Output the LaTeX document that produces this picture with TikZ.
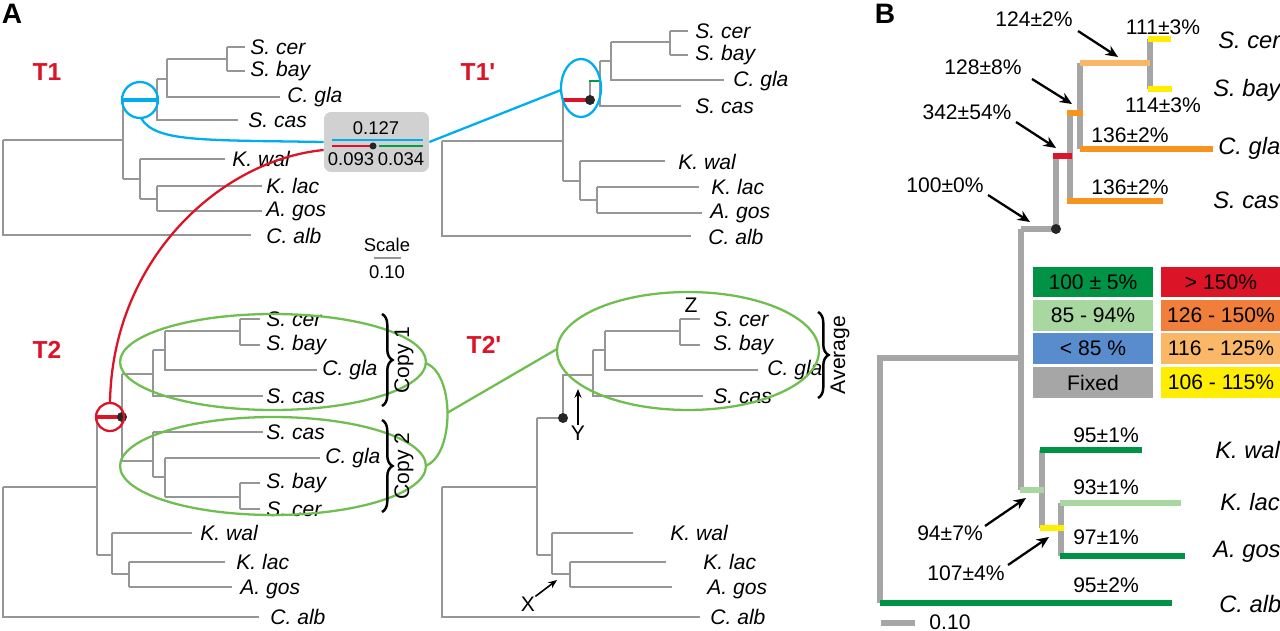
\documentclass[tikz,border=0pt]{standalone}
\usepackage{fontspec}
\setmainfont{Liberation Sans}
\usetikzlibrary{arrows.meta,decorations.pathreplacing}
\definecolor{tg}{RGB}{150,150,150}
\definecolor{lb}{RGB}{0,174,239}
\definecolor{rd}{RGB}{220,20,40}
\definecolor{gr}{RGB}{0,160,70}
\definecolor{lg}{RGB}{110,190,80}
\definecolor{dg}{RGB}{0,146,69}
\definecolor{pg}{RGB}{168,216,160}
\definecolor{bl}{RGB}{88,140,204}
\definecolor{fx}{RGB}{166,166,166}
\definecolor{og}{RGB}{240,127,60}
\definecolor{lo}{RGB}{250,183,104}
\definecolor{ye}{RGB}{255,238,0}
\definecolor{ob}{RGB}{247,148,29}
\begin{document}
\begin{tikzpicture}[x=0.02cm,y=-0.02cm,
 tr/.style={draw=tg,line width=1.2pt},
 tb/.style={line width=2.9pt},
 sp/.style={anchor=west,inner sep=0pt,font=\fontsize{12}{14}\selectfont\itshape},
 spb/.style={anchor=west,inner sep=0pt,font=\fontsize{13.5}{15}\selectfont\itshape},
 pc/.style={inner sep=0pt,font=\fontsize{12}{14}\selectfont},
 sm/.style={inner sep=0pt,font=\fontsize{10.5}{12}\selectfont},
 tl/.style={text=rd,font=\fontsize{14}{16}\selectfont\bfseries},
 ar/.style={-{Stealth[length=7pt,width=6pt]},line width=1.3pt},
 lgd/.style={minimum width=2.4cm,minimum height=0.62cm,inner sep=0pt,font=\fontsize{12}{14}\selectfont},
 br/.style={decorate,decoration={brace,amplitude=6pt},line width=1.4pt},
 dot/.style={circle,fill=black!85,inner sep=0pt,minimum size=0.2cm}]
\useasboundingbox (0,0) rectangle (1280,631);
\node[font=\fontsize{16}{18}\selectfont\bfseries] (lA) at (12,14) {A};
\node[font=\fontsize{16}{18}\selectfont\bfseries] (lB) at (885,14) {B};
% ---------- T1
\node[tl] (t1) at (47,72) {T1};
\draw[tr] (3,140)--(123,140) (3,140)--(3,235)--(251,235)
 (123,100)--(123,179) (157,79)--(157,120)--(238,120) (157,79)--(167,79)
 (167,59)--(167,97)--(280,97) (167,59)--(227,59) (227,47)--(227,71)
 (227,47)--(245,47) (227,71)--(245,71)
 (123,179)--(140,179) (140,159)--(140,199) (140,159)--(225,159) (140,199)--(157,199)
 (157,186)--(157,211) (157,186)--(262,186) (157,211)--(262,211);
\draw[lb,line width=1.8pt] (123,100)--(157,100);
\draw[lb,line width=1.3pt] (140,100) circle[radius=0.36cm];
\node[sp] (a1) at (250,47) {S. cer};
\node[sp] (a2) at (250,71) {S. bay};
\node[sp] (a3) at (287,97) {C. gla};
\node[sp] (a4) at (248,120) {S. cas};
\node[sp] (a5) at (232,159) {K. wal};
\node[sp] (a6) at (266,186) {K. lac};
\node[sp] (a7) at (266,211) {A. gos};
\node[sp] (a8) at (266,236) {C. alb};
% box
\node[fill=black!18,rounded corners=4pt,minimum width=2.1cm,minimum height=1.2cm,inner sep=0pt] (bx) at (376.5,142) {};
\node[sm] (v1) at (376,128) {0.127};
\node[sm] (v2) at (351,159) {0.093};
\node[sm] (v3) at (401,159) {0.034};
\draw[lb,line width=1.5pt] (332,140)--(423,140);
\draw[rd,line width=1.5pt] (332,146)--(373,146);
\draw[gr,line width=1.5pt] (379,146)--(423,146);
\node[dot,minimum size=0.14cm] (bd) at (373,146) {};
\node[sm] (sc) at (387,245) {Scale};
\draw[tr] (374,258)--(401,258);
\node[sm] (sv) at (387,272) {0.10};
% ---------- T1'
\node[tl] (t1p) at (478,72) {T1\textquotesingle};
\draw[tr] (442,141)--(563,141) (442,141)--(442,236)--(691,236)
 (563,100)--(563,181) (600,61)--(600,106)--(681,106) (600,61)--(611,61)
 (611,42)--(611,80)--(724,80) (611,42)--(670,42) (670,31)--(670,55)
 (670,31)--(688,31) (670,55)--(688,55)
 (563,181)--(580,181) (580,161)--(580,200) (580,161)--(665,161) (580,200)--(597,200)
 (597,187)--(597,213) (597,187)--(699,187) (597,213)--(702,213);
\draw[tg,line width=1.2pt] (590,100)--(590,81);
\draw[gr,line width=1.6pt] (589,81)--(600,81);
\draw[rd,line width=1.8pt] (563,100)--(590,100);
\node[dot] (d1) at (590,100) {};
\draw[lb,line width=1.3pt] (581,88) ellipse[x radius=0.4cm,y radius=0.58cm];
\node[sp] (b1) at (695,31) {S. cer};
\node[sp] (b2) at (695,55) {S. bay};
\node[sp] (b3) at (733,81) {C. gla};
\node[sp] (b4) at (695,106) {S. cas};
\node[sp] (b5) at (678,162) {K. wal};
\node[sp] (b6) at (711,187) {K. lac};
\node[sp] (b7) at (710,213) {A. gos};
\node[sp] (b8) at (708,237) {C. alb};
\coordinate (c1) at (141,118);
\coordinate (c2) at (561,90);
\draw[lb,line width=1.3pt] (c1) .. controls (155,142) and (200,140) .. (bx.west);
\draw[lb,line width=1.3pt] (bx.east) -- (c2);
% ---------- T2
\node[tl] (t2) at (47,350) {T2};
\draw[tr] (3,487)--(97,487) (3,487)--(3,617)--(259,617)
 (97,417)--(97,555) (122,374)--(122,461)
 (122,374)--(153,374) (153,350)--(153,396)--(263,396) (153,350)--(165,350)
 (165,331)--(165,370)--(317,370) (165,331)--(240,331) (240,319)--(240,345)
 (240,319)--(260,319) (240,345)--(260,345)
 (122,461)--(153,461) (153,432)--(153,477) (153,432)--(263,432) (153,477)--(165,477)
 (165,458)--(165,497) (165,458)--(320,458) (165,497)--(240,497) (240,483)--(240,509)
 (240,483)--(260,483) (240,509)--(260,509)
 (97,555)--(112,555) (112,533)--(112,574) (112,533)--(192,533) (112,574)--(129,574)
 (129,562)--(129,587) (129,562)--(225,562) (129,587)--(232,587);
\draw[rd,line width=1.8pt] (97,417)--(122,417);
\node[dot] (d2) at (122,417) {};
\draw[rd,line width=1.3pt] (110,417) circle[radius=0.28cm];
\node[sp] (e1) at (266,319) {S. cer};
\node[sp] (e2) at (266,345) {S. bay};
\node[sp] (e3) at (322,370) {C. gla};
\node[sp] (e4) at (266,396) {S. cas};
\node[sp] (e5) at (266,432) {S. cas};
\node[sp] (e6) at (325,458) {C. gla};
\node[sp] (e7) at (266,483) {S. bay};
\node[sp] (e8) at (266,509) {S. cer};
\node[sp] (e9) at (200,533) {K. wal};
\node[sp] (e10) at (236,562) {K. lac};
\node[sp] (e11) at (240,589) {A. gos};
\node[sp] (e12) at (270,617) {C. alb};
\draw[lg,line width=1.3pt] (273,362) ellipse[x radius=3.06cm,y radius=0.96cm];
\draw[lg,line width=1.3pt] (273,466) ellipse[x radius=3.06cm,y radius=0.98cm];
\draw[br] (382,314)--(382,406);
\draw[br] (382,420)--(382,512);
\node[pc,rotate=90] (cp1) at (404,360) {Copy 1};
\node[pc,rotate=90] (cp2) at (404,466) {Copy 2};
\coordinate (c3) at (110,403);
\draw[rd,line width=1.3pt] (c3) .. controls (112,260) and (220,160) .. (bx.west |- 0,150);
\coordinate (g1) at (425,363);
\coordinate (g2) at (425,466);
\coordinate (g3) at (447,413);
\coordinate (g4) at (557,349);
\draw[lg,line width=1.3pt] (g1) .. controls (455,372) and (455,456) .. (g2);
\draw[lg,line width=1.3pt] (g3) -- (g4);
% ---------- T2'
\node[tl] (t2p) at (484,345) {T2\textquotesingle};
\draw[tr] (442,487)--(537,487) (442,487)--(442,617)--(700,617)
 (537,418)--(537,555) (563,418)--(563,375)--(593,375)
 (593,350)--(593,396)--(703,396) (593,350)--(605,350)
 (605,331)--(605,370)--(758,370) (605,331)--(680,331) (680,319)--(680,345)
 (680,319)--(700,319) (680,345)--(700,345)
 (537,555)--(552,555) (552,533)--(552,574) (552,533)--(633,533) (552,574)--(570,574)
 (570,562)--(570,587) (570,562)--(666,562) (570,587)--(672,587)
 (537,418)--(563,418);
\node[dot] (d3) at (563,418) {};
\node[sp] (f1) at (713,319) {S. cer};
\node[sp] (f2) at (713,345) {S. bay};
\node[sp] (f3) at (767,370) {C. gla};
\node[sp] (f4) at (713,396) {S. cas};
\node[sp] (f5) at (670,533) {K. wal};
\node[sp] (f6) at (703,562) {K. lac};
\node[sp] (f7) at (707,589) {A. gos};
\node[sp] (f8) at (710,617) {C. alb};
\node[pc] (zz) at (691,305) {Z};
\node[pc] (yy) at (578,433) {Y};
\node[pc] (xx) at (528,604) {X};
\draw[-{Stealth[length=5pt,width=4pt]},line width=0.9pt] (yy.north) -- (578,389);
\draw[-{Stealth[length=5pt,width=4pt]},line width=0.9pt] (xx.north east) -- (557,580);
\draw[lg,line width=1.3pt] (688,351) ellipse[x radius=2.62cm,y radius=1.18cm];
\draw[br] (818,312)--(818,398);
\node[pc,rotate=90] (avg) at (840,355) {Average};
% ---------- B
\draw[fx,tb] (880,603)--(880,358)--(1021,358) (1021,229)--(1021,490) (1021,229)--(1056,229)
 (1056,229)--(1056,156) (1070,113)--(1070,201) (1080,63)--(1080,149)
 (1150,39)--(1150,89) (1042,490)--(1042,528) (1042,450)--(1042,490) (1061,528)--(1061,556) (1061,503)--(1061,528);
\draw[rd,tb] (1053,156)--(1072,156);
\draw[ob,tb] (1067,201)--(1163,201) (1067,113)--(1083,113) (1080,149)--(1213,149);
\draw[lo,tb] (1080,63)--(1150,63);
\draw[ye,tb] (1148,39)--(1171,39) (1148,89)--(1172,89) (1040,528)--(1064,528);
\draw[pg,tb] (1020,490)--(1044,490) (1060,503)--(1181,503);
\draw[dg,tb] (1040,450)--(1142,450) (1060,556)--(1185,556) (880,603)--(1172,603);
\node[dot] (d4) at (1056,229) {};
\draw[fx,tb] (881,623)--(915,623);
\node[pc] (s10) at (950,622) {0.10};
\node[spb] (h1) at (1218,40) {S. cer};
\node[spb] (h2) at (1213,90) {S. bay};
\node[spb] (h3) at (1218,148) {C. gla};
\node[spb] (h4) at (1213,200) {S. cas};
\node[spb] (h5) at (1215,450) {K. wal};
\node[spb] (h6) at (1220,502) {K. lac};
\node[spb] (h7) at (1213,552) {A. gos};
\node[spb] (h8) at (1219,604) {C. alb};
\node[pc] (p1) at (1034,19) {124±2\%};
\node[pc] (p2) at (1163,27) {111±3\%};
\node[pc] (p3) at (1163,105) {114±3\%};
\node[pc] (p4) at (983,67) {128±8\%};
\node[pc] (p5) at (967,112) {342±54\%};
\node[pc] (p6) at (1130,135) {136±2\%};
\node[pc] (p7) at (1130,187) {136±2\%};
\node[pc] (p8) at (945,185) {100±0\%};
\node[pc] (p9) at (1106,435) {95±1\%};
\node[pc] (p10) at (1106,487) {93±1\%};
\node[pc] (p11) at (1106,537) {97±1\%};
\node[pc] (p12) at (1106,585) {95±2\%};
\node[pc] (p13) at (950,533) {94±7\%};
\node[pc] (p14) at (966,573) {107±4\%};
\draw[ar] (1078,31)--(1118,57);
\draw[ar] (1032,79)--(1072,104);
\draw[ar] (1016,122)--(1056,148);
\draw[ar] (988,195)--(1030,222);
\draw[ar] (985,526)--(1026,498);
\draw[ar] (1008,565)--(1049,537);
% legend
\node[lgd,fill=dg] (L1) at (1093,282) {100 ± 5\%};
\node[lgd,fill=pg] (L2) at (1093,315.5) {85 - 94\%};
\node[lgd,fill=bl] (L3) at (1093,348.5) {< 85 \%};
\node[lgd,fill=fx] (L4) at (1093,382.5) {Fixed};
\node[lgd,fill=rd] (R1) at (1221,282) {> 150\%};
\node[lgd,fill=og] (R2) at (1221,315.5) {126 - 150\%};
\node[lgd,fill=lo] (R3) at (1221,348.5) {116 - 125\%};
\node[lgd,fill=ye] (R4) at (1221,382.5) {106 - 115\%};
\end{tikzpicture}
\end{document}
